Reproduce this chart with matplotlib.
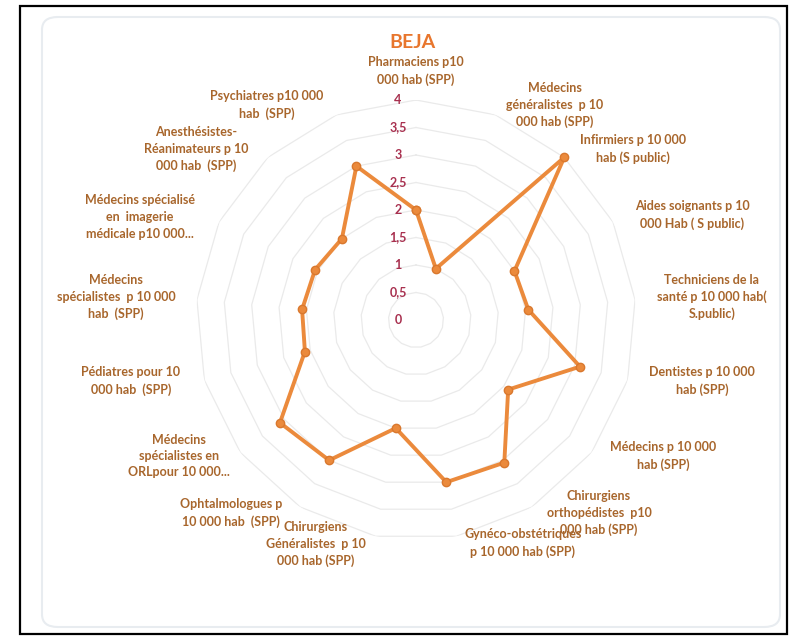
import numpy as np
import matplotlib.pyplot as plt
from matplotlib.patches import FancyBboxPatch, Rectangle

# categories (clockwise from top) and values for BEJA
categories = [
    "Pharmaciens p10\n000 hab (SPP)",
    "Médecins\ngénéralistes  p 10\n000 hab (SPP)",
    "Infirmiers p 10 000\nhab (S public)",
    "Aides soignants p 10\n000 Hab ( S public)",
    "Techniciens de la\nsanté p 10 000 hab(\nS.public)",
    "Dentistes p 10 000\nhab (SPP)",
    "Médecins p 10 000\nhab (SPP)",
    "Chirurgiens\northopédistes  p10\n000 hab (SPP)",
    "Gynéco-obstétriques\np 10 000 hab (SPP)",
    "Chirurgiens\nGénéralistes  p 10\n000 hab (SPP)",
    "Ophtalmologues p\n10 000 hab  (SPP)",
    "Médecins\nspécialistes en\nORLpour 10 000...",
    "Pédiatres pour 10\n000 hab  (SPP)",
    "Médecins\nspécialistes  p 10 000\nhab  (SPP)",
    "Médecins spécialisé\nen  imagerie\nmédicale p10 000...",
    "Anesthésistes-\nRéanimateurs p 10\n000 hab  (SPP)",
    "Psychiatres p10 000\nhab  (SPP)",
]
values = [2.0, 1.0, 4.0, 2.0, 2.05, 3.1, 2.1, 3.05, 3.0, 2.0, 3.0, 3.1, 2.1, 2.08, 2.05, 2.0, 3.0]
levels = [0, 0.5, 1, 1.5, 2, 2.5, 3, 3.5, 4]
level_labels = ["0", "0,5", "1", "1,5", "2", "2,5", "3", "3,5", "4"]

# label centres in pixels (Excel layout)
label_pos = [(416, 71), (555, 105), (633, 149), (692, 215), (712, 297), (702, 381),
             (663, 456), (599, 513), (523, 543), (316, 544), (231, 513), (179, 456),
             (131, 381), (116, 297), (140, 217), (196, 149), (267, 105)]

W, H = 789, 636
orange = "#EB8A3C"
brown = "#A8662C"
tick_col = "#A8304F"

fig = plt.figure(figsize=(W / 100, H / 100), dpi=100)
fig.patch.set_facecolor("white")

# frames
fig.patches.append(Rectangle((20 / W, 2 / H), 767 / W, 628 / H, transform=fig.transFigure,
                             fill=False, edgecolor="black", lw=1.6))
fig.patches.append(FancyBboxPatch((42 / W, 9 / H), 738 / W, 610 / H, transform=fig.transFigure,
                                  boxstyle="round,pad=0,rounding_size=0.02", fill=False,
                                  edgecolor="#E8ECF0", lw=1.5))

cx, cy, R = 416, 320, 220
ax = fig.add_axes([(cx - R) / W, (H - cy - R) / H, 2 * R / W, 2 * R / H], projection="polar")
ax.set_theta_offset(np.pi / 2)
ax.set_theta_direction(-1)
ax.set_ylim(0, 4)
ax.grid(False)
ax.set_xticks([])
ax.set_yticks([])
ax.spines["polar"].set_visible(False)
ax.patch.set_alpha(0)

n = len(categories)
theta = np.linspace(0, 2 * np.pi, n, endpoint=False)
theta_c = np.append(theta, theta[0])

for lv in levels[1:]:
    ax.plot(theta_c, [lv] * (n + 1), color="#EAEAEA", lw=0.9, zorder=1)

ax.plot(theta_c, values + values[:1], color=orange, lw=2.8, marker="o", markersize=6,
        markerfacecolor=orange, markeredgecolor="#D9782E", zorder=3, clip_on=False)

for lv, txt in zip(levels, level_labels):
    ax.annotate(txt, xy=(0, lv), xytext=(-13, 0), textcoords="offset points",
                ha="center", va="center", fontsize=9, fontweight="bold",
                color=tick_col, family="Lato")

for txt, (px, py) in zip(categories, label_pos):
    fig.text(px / W, 1 - py / H, txt, ha="center", va="center", fontsize=9,
             fontweight="bold", color=brown, family="Lato", linespacing=1.45)

fig.text(412 / W, 1 - 43 / H, "BEJA", ha="center", va="center", fontsize=14,
         fontweight="bold", color="#E8762D", family="Lato")

fig.savefig("out.png", dpi=100)
